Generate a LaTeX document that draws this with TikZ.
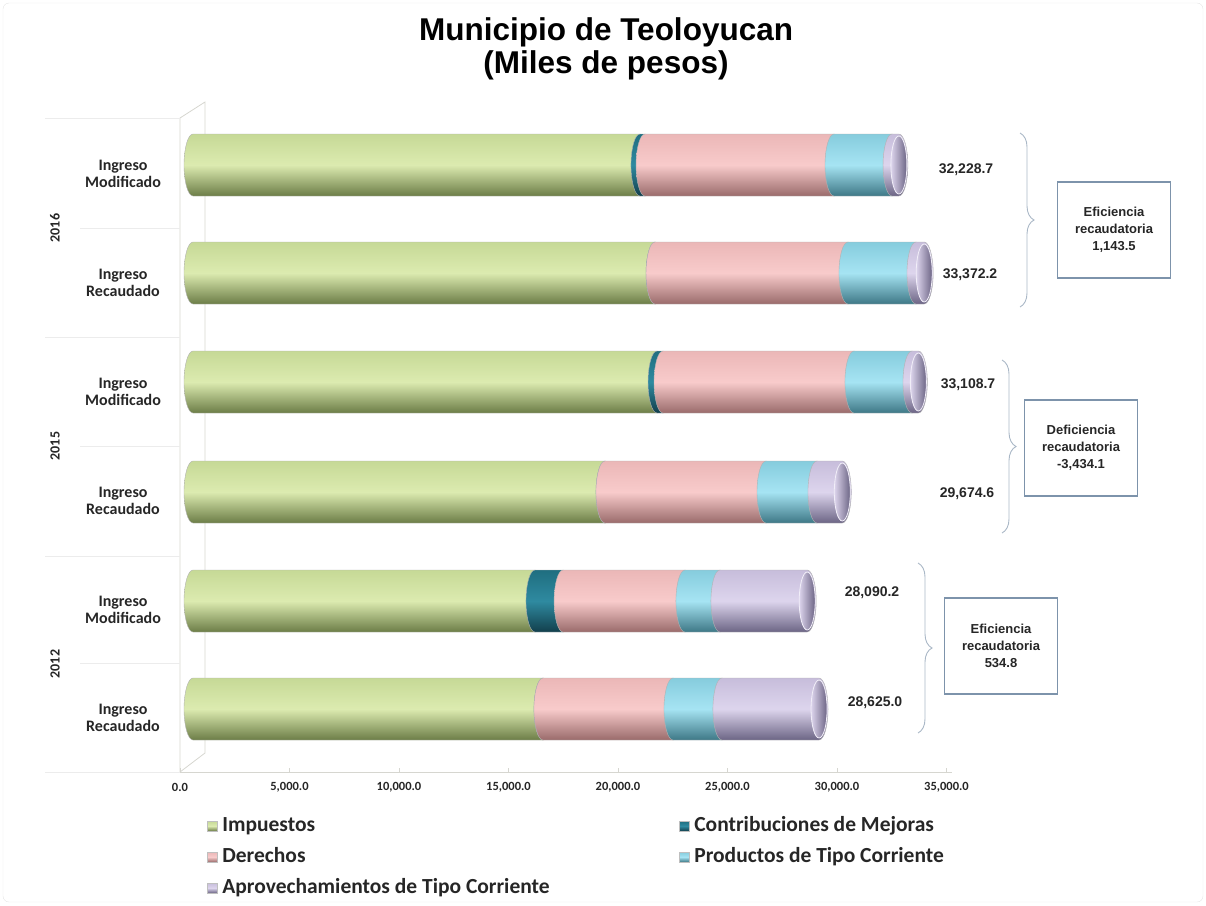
\documentclass[tikz,border=0pt]{standalone}
\usepackage{fontspec}
\setmainfont{Liberation Sans}
\newfontfamily\calibri{Carlito}
\usetikzlibrary{positioning, decorations.pathreplacing}

\definecolor{impmid}{HTML}{DCEBB0}
\definecolor{imptop}{HTML}{C6D996}
\definecolor{impdark}{HTML}{6C7D47}
\definecolor{conmid}{HTML}{2F8AA0}
\definecolor{contop}{HTML}{1F6E80}
\definecolor{condark}{HTML}{123F4C}
\definecolor{dermid}{HTML}{F8CBCB}
\definecolor{dertop}{HTML}{EBB7B7}
\definecolor{derdark}{HTML}{9A6B6B}
\definecolor{promid}{HTML}{A6E4F3}
\definecolor{protop}{HTML}{86CCDD}
\definecolor{prodark}{HTML}{3E7886}
\definecolor{aprmid}{HTML}{DDD5ED}
\definecolor{aprtop}{HTML}{C7BDDB}
\definecolor{aprdark}{HTML}{6C6585}
\definecolor{wallgray}{HTML}{D6D6D0}
\definecolor{boxblue}{HTML}{7D93AB}
\definecolor{bracegray}{HTML}{A9B7C6}
\definecolor{txt}{HTML}{262626}

% one piece of a cylinder bar: style, from, to, centre
\newcommand\cylseg[4]{%
  \path[#1, draw=black!30, line width=0.4pt]
    (#2,#4+31) arc[start angle=90, end angle=270, x radius=9, y radius=31]
    -- (#3,#4-31) arc[start angle=-90, end angle=90, x radius=9, y radius=31]
    -- cycle;}

\begin{document}
\begin{tikzpicture}[x=1pt, y=1pt,
    cimp/.style={top color=imptop, bottom color=impdark, middle color=impmid},
    ccon/.style={top color=contop, bottom color=condark, middle color=conmid},
    cder/.style={top color=dertop, bottom color=derdark, middle color=dermid},
    cpro/.style={top color=protop, bottom color=prodark, middle color=promid},
    capr/.style={top color=aprtop, bottom color=aprdark, middle color=aprmid},
    endface/.style={left color=aprmid, right color=aprdark, draw=white!60!aprmid, line width=0.8pt},
    wall/.style={draw=wallgray, line width=0.8pt},
    sepline/.style={draw=gray!15, line width=0.8pt},
    title/.style={font=\bfseries\fontsize{31.5}{33}\selectfont, align=center},
    catlabel/.style={font=\calibri\bfseries\fontsize{16}{17}\selectfont, align=center, text=txt},
    yearlabel/.style={font=\calibri\bfseries\fontsize{14}{16}\selectfont, rotate=90, text=txt},
    ticklabel/.style={font=\calibri\bfseries\fontsize{12.5}{14}\selectfont, text=txt},
    vallabel/.style={font=\bfseries\fontsize{14}{16}\selectfont, text=txt},
    effbox/.style={draw=boxblue, line width=1.2pt, minimum width=113pt, minimum height=96pt,
                   align=center, font=\bfseries\fontsize{13}{17}\selectfont, text=txt},
    curly/.style={decorate, decoration={brace, amplitude=14pt}, draw=bracegray, line width=0.9pt},
    legmark/.style={minimum size=10pt, inner sep=0pt, draw=black!25, line width=0.3pt},
    legtext/.style={font=\calibri\bfseries\fontsize{21.5}{24}\selectfont, text=txt, inner sep=0pt,
                    text height=14pt, text depth=4pt}]

\useasboundingbox (0,0) rectangle (1206,-905);
\draw[gray!20, rounded corners=6pt] (3,-3) rectangle (1203,-902);

% title
\node[title] (title) at (606,-49) {Municipio de Teoloyucan\\(Miles de pesos)};

% side wall and axis
\draw[wall] (180,-118) -- (205,-102) -- (205,-753) -- (180,-772) -- cycle;
\draw[wall] (180,-772) -- (952,-772);
\foreach \i/\t in {0/{0.0}, 1/{5,000.0}, 2/{10,000.0}, 3/{15,000.0}, 4/{20,000.0}, 5/{25,000.0}, 6/{30,000.0}, 7/{35,000.0}}{
  \draw[wall] ({180+109.5*\i},-772) -- ++(0,4);
  \node[ticklabel] (tick\i) at ({180+109.5*\i},-787) {\t};
}

% category lines and labels
\foreach \y in {118,337,556,772} \draw[sepline] (45,-\y) -- (180,-\y);
\foreach \y in {228,446,663} \draw[sepline] (80,-\y) -- (180,-\y);
\node[yearlabel] (y2016) at (55,-228) {2016};
\node[yearlabel] (y2015) at (55,-446) {2015};
\node[yearlabel] (y2012) at (55,-664) {2012};
\node[catlabel] (c1) at (123,-174) {Ingreso\\Modificado};
\node[catlabel] (c2) at (123,-283) {Ingreso\\Recaudado};
\node[catlabel] (c3) at (123,-392) {Ingreso\\Modificado};
\node[catlabel] (c4) at (123,-501) {Ingreso\\Recaudado};
\node[catlabel] (c5) at (123,-610) {Ingreso\\Modificado};
\node[catlabel] (c6) at (123,-718) {Ingreso\\Recaudado};

% cylinder bars (cumulative values, thousands of pesos)
\foreach \yc/\va/\vb/\vc/\vd/\ve in {165/20.540/20.770/29.300/31.920/32.2287,
                                     273/21.220/21.220/29.930/33.000/33.3722,
                                     382/21.310/21.580/30.200/32.820/33.1087,
                                     492/18.960/18.960/26.230/28.530/29.6746,
                                     601/15.800/17.070/22.570/24.150/28.0902,
                                     709/16.160/16.160/22.030/24.240/28.6250}{
  \pgfmathsetmacro\xa{185+22.15*\va}
  \pgfmathsetmacro\xb{185+22.15*\vb}
  \pgfmathsetmacro\xc{185+22.15*\vc}
  \pgfmathsetmacro\xd{185+22.15*\vd}
  \pgfmathsetmacro\xe{185+22.15*\ve}
  \cylseg{cimp}{193}{\xa}{-\yc}
  \cylseg{ccon}{\xa}{\xb}{-\yc}
  \cylseg{cder}{\xb}{\xc}{-\yc}
  \cylseg{cpro}{\xc}{\xd}{-\yc}
  \cylseg{capr}{\xd}{\xe}{-\yc}
  \path[endface] (\xe,-\yc) ellipse[x radius=8, y radius=29];
}

% totals
\node[vallabel] (v1) at (966,-170) {32,228.7};
\node[vallabel] (v2) at (970,-275) {33,372.2};
\node[vallabel] (v3) at (968,-385) {33,108.7};
\node[vallabel] (v4) at (967,-494) {29,674.6};
\node[vallabel] (v5) at (872,-593) {28,090.2};
\node[vallabel] (v6) at (875,-703) {28,625.0};

% braces and boxes
\coordinate (b1t) at (1020,-133);
\coordinate (b1b) at (1020,-307);
\coordinate (b2t) at (1002,-360);
\coordinate (b2b) at (1002,-533);
\coordinate (b3t) at (918,-563);
\coordinate (b3b) at (918,-733);
\draw[curly] (b1t) -- (b1b);
\draw[curly] (b2t) -- (b2b);
\draw[curly] (b3t) -- (b3b);
\node[effbox] (e2016) at (1114,-230) {Eficiencia\\recaudatoria\\1,143.5};
\node[effbox] (e2015) at (1081,-448) {Deficiencia\\recaudatoria\\-3,434.1};
\node[effbox] (e2012) at (1001,-646) {Eficiencia\\recaudatoria\\534.8};

% legend
\node[legmark, cimp] (limp) at (212,-826) {};
\node[legtext, right=5pt of limp] (timp) {Impuestos};
\node[legmark, cder] (lder) at (212,-857) {};
\node[legtext, right=5pt of lder] (tder) {Derechos};
\node[legmark, capr] (lapr) at (212,-888) {};
\node[legtext, right=5pt of lapr] (tapr) {Aprovechamientos de Tipo Corriente};
\node[legmark, ccon] (lcon) at (684,-826) {};
\node[legtext, right=5pt of lcon] (tcon) {Contribuciones de Mejoras};
\node[legmark, cpro] (lpro) at (684,-857) {};
\node[legtext, right=5pt of lpro] (tpro) {Productos de Tipo Corriente};

\end{tikzpicture}
\end{document}
